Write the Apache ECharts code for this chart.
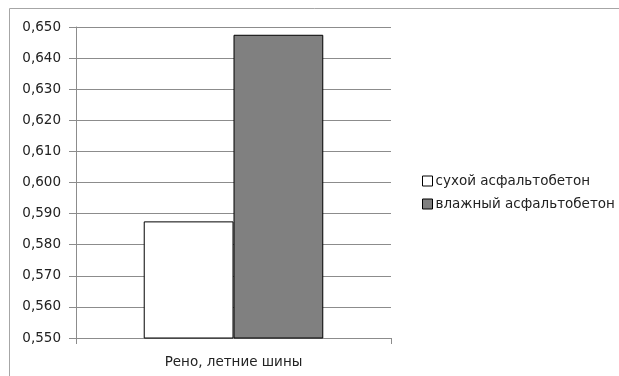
<!DOCTYPE html>
<html>
<head>
<meta charset="utf-8">
<script src="https://cdn.jsdelivr.net/npm/echarts@6/dist/echarts.min.js"></script>
<style>
  html, body { margin: 0; padding: 0; background: #fff; }
  #chart { width: 619px; height: 376px; }
</style>
</head>
<body>
<div id="chart"></div>
<script>
// Friction coefficient, summer tyres, dry vs wet asphalt
const categories = ['Рено, летние шины'];
const seriesNames = ['сухой асфальтобетон', 'влажный асфальтобетон'];
const dryValues = [0.5875];
const wetValues = [0.6475];
const yTicks = [0.55, 0.56, 0.57, 0.58, 0.59, 0.60, 0.61, 0.62, 0.63, 0.64, 0.65];

const font = 'DejaVu Sans';
const fontSize = 13.5;
const textColor = '#222';
const lineColor = '#8c8c8c';

const chart = echarts.init(document.getElementById('chart'), null, { renderer: 'canvas' });

chart.setOption({
  animation: false,
  backgroundColor: '#fff',
  graphic: [{
    type: 'rect',
    shape: { x: 9.5, y: 8.5, width: 620, height: 380 },
    style: { fill: 'none', stroke: '#a6a6a6', lineWidth: 1 },
    silent: true
  }],
  grid: { left: 76, right: 228, top: 27, bottom: 38 },
  legend: {
    orient: 'vertical',
    left: 417,
    top: 169,
    itemWidth: 10,
    itemHeight: 10,
    itemGap: 9,
    icon: 'rect',
    itemStyle: { borderWidth: 1, borderColor: '#000' },
    textStyle: { fontFamily: font, fontSize: fontSize, color: textColor, padding: [0, 0, 0, -2] },
    data: seriesNames
  },
  xAxis: {
    type: 'category',
    data: categories,
    axisLine: { lineStyle: { color: lineColor, width: 1 } },
    axisTick: { show: true, length: 6, lineStyle: { color: lineColor } },
    axisLabel: { fontFamily: font, fontSize: fontSize, color: textColor, margin: 17 }
  },
  yAxis: {
    type: 'value',
    min: yTicks[0],
    max: yTicks[yTicks.length - 1],
    interval: 0.01,
    axisLine: { show: true, lineStyle: { color: lineColor, width: 1 } },
    axisTick: { show: true, length: 7, lineStyle: { color: lineColor } },
    splitLine: { show: true, lineStyle: { color: lineColor, width: 1 } },
    axisLabel: {
      fontFamily: font, fontSize: fontSize, color: textColor, margin: 15,
      formatter: v => v.toFixed(3).replace('.', ',')
    }
  },
  series: [
    {
      name: seriesNames[0],
      type: 'bar',
      data: dryValues,
      barGap: '0%',
      barCategoryGap: '43%',
      itemStyle: { color: '#ffffff', borderColor: '#000', borderWidth: 1 }
    },
    {
      name: seriesNames[1],
      type: 'bar',
      data: wetValues,
      itemStyle: { color: '#808080', borderColor: '#000', borderWidth: 1 }
    }
  ]
});
</script>
</body>
</html>
